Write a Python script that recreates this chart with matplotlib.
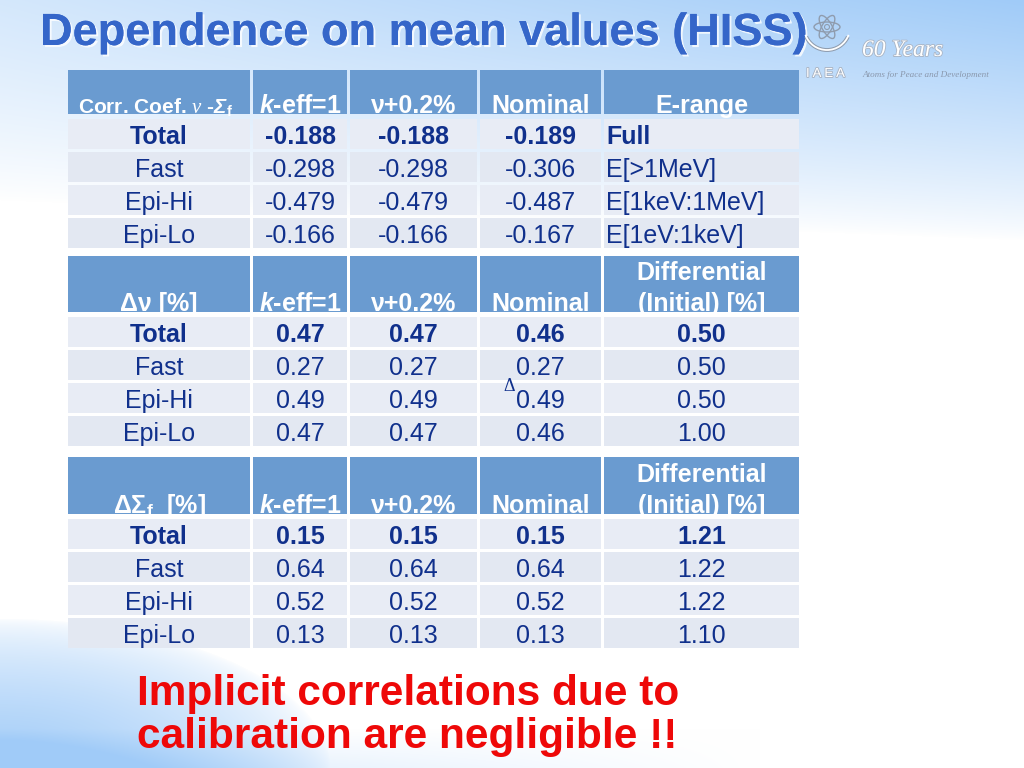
import numpy as np
import matplotlib
matplotlib.use("Agg")
import matplotlib.pyplot as plt
from matplotlib.patches import Rectangle, Ellipse, Arc
import matplotlib.patheffects as pe

# ---------------- data ----------------
row_labels = ["Total", "Fast", "Epi-Hi", "Epi-Lo"]
case_headers = [r"$\mathbfit{k}$-eff=1", "ν+0.2%", "Nominal"]

corr_keff = [-0.188, -0.298, -0.479, -0.166]
corr_nu02 = [-0.188, -0.298, -0.479, -0.166]
corr_nominal = [-0.189, -0.306, -0.487, -0.167]
e_range = ["Full", "E[>1MeV]", "E[1keV:1MeV]", "E[1eV:1keV]"]

dnu_keff = [0.47, 0.27, 0.49, 0.47]
dnu_nu02 = [0.47, 0.27, 0.49, 0.47]
dnu_nominal = [0.46, 0.27, 0.49, 0.46]
dnu_diff = [0.50, 0.50, 0.50, 1.00]

dsig_keff = [0.15, 0.64, 0.52, 0.13]
dsig_nu02 = [0.15, 0.64, 0.52, 0.13]
dsig_nominal = [0.15, 0.64, 0.52, 0.13]
dsig_diff = [1.21, 1.22, 1.22, 1.10]

title = "Dependence on mean values (HISS)"
conclusion = ["Implicit correlations due to", "calibration are negligible !!"]

# ---------------- style ----------------
plt.rcParams["font.family"] = ["Liberation Sans", "DejaVu Sans"]
plt.rcParams["mathtext.fontset"] = "custom"
plt.rcParams["mathtext.rm"] = "Liberation Sans"
plt.rcParams["mathtext.it"] = "Liberation Serif:italic"
plt.rcParams["mathtext.bf"] = "Liberation Sans:bold"
plt.rcParams["mathtext.bfit"] = "Liberation Sans:italic:bold"

HEAD = "#6a9bd0"
ROW_A = "#e8ecf5"
ROW_B = "#e3e8f2"
NAVY = "#10308c"
TITLE_C = "#3566c9"
RED = "#ee0808"

fig = plt.figure(figsize=(10.24, 7.68), dpi=100)
ax = fig.add_axes([0, 0, 1, 1])
ax.set_xlim(0, 1024)
ax.set_ylim(768, 0)
ax.axis("off")

# background gradient
W, H = 1024, 768
yy, xx = np.mgrid[0:H, 0:W].astype(float)
I_top = np.clip(1 - yy / (200 + 40 * xx / W), 0, 1) ** 0.8 * (0.45 + 0.55 * xx / W)
I_bl = np.clip(1 - np.sqrt((xx / 330) ** 2 + ((H - yy) / 150) ** 2), 0, 1) ** 0.6
I_band = np.clip(1 - (H - yy) / 40, 0, 1) * np.clip(1 - xx / 760, 0, 1) * 0.4
I = np.clip(I_top + I_bl + I_band, 0, 1)
blue = np.array([160, 203, 248]) / 255.0
bg = (1 - I)[..., None] * np.ones(3) + I[..., None] * blue
ax.imshow(bg, extent=[0, W, H, 0], zorder=0, aspect="auto")

# title
ax.text(40, 45, title, fontsize=32.5, fontweight="bold", color=TITLE_C,
        ha="left", va="baseline", zorder=5,
        path_effects=[pe.withSimplePatchShadow(offset=(1.5, -1.5), shadow_rgbFace="white", alpha=0.8), pe.Normal()])

# IAEA logo (approximation)
lc = "#8f9cae"
for ang in (0, 60, 120):
    ax.add_patch(Ellipse((827, 27), 26, 10, angle=ang, fill=False, ec=lc, lw=1.0, zorder=5))
ax.add_patch(Ellipse((827, 27), 5, 5, fill=False, ec=lc, lw=0.8, zorder=5))
ax.add_patch(Arc((827, 27), 46, 46, theta1=25, theta2=155, ec=lc, lw=2.8, zorder=5))
ax.add_patch(Arc((827, 27), 46, 46, theta1=20, theta2=160, ec="white", lw=1.3, zorder=5))
ax.text(862, 56, "60 Years", fontsize=17, fontstyle="italic", family="Liberation Serif",
        color="white", ha="left", va="baseline", zorder=5,
        path_effects=[pe.withStroke(linewidth=1.2, foreground="#a9b4c4")])
ax.text(806, 77, "I A E A", fontsize=9.5, color="white", ha="left", va="baseline", zorder=5,
        path_effects=[pe.withStroke(linewidth=1.3, foreground="#a9b4c4")])
ax.text(862, 77, "Atoms for Peace and Development", fontsize=6.6, fontstyle="italic",
        family="Liberation Serif", color="#8a98ad", ha="left", va="baseline", zorder=5)

# ---------------- tables ----------------
col_edges = [68, 253, 350, 480, 604, 802]
GAP = 3
ROW_H = 33
FS = 18


def cell(x0, x1, y0, y1, color):
    ax.add_patch(Rectangle((x0, y0), x1 - x0 - GAP, y1 - y0 - GAP, fc=color, ec="none", zorder=2))


def draw_table(top, head_h, header_texts, header_lines2, cols, last_col, last_left, fmt):
    for c in range(5):
        cell(col_edges[c], col_edges[c + 1], top, top + head_h, HEAD)
    base = top + head_h - 4
    for c, t in enumerate(header_texts):
        cx = (col_edges[c] + col_edges[c + 1] - GAP) / 2
        txt, fs, ha, x = t
        ax.text(x if x is not None else cx, base, txt, fontsize=fs, fontweight="bold",
                color="white", ha=ha, va="baseline", zorder=4)
    if header_lines2:
        cx = (col_edges[4] + col_edges[5] - GAP) / 2
        ax.text(cx, base - 31, header_lines2, fontsize=FS, fontweight="bold",
                color="white", ha="center", va="baseline", zorder=4)
    y0 = top + head_h + 2
    for r, lab in enumerate(row_labels):
        ya = y0 + r * ROW_H
        for c in range(5):
            cell(col_edges[c], col_edges[c + 1], ya, ya + ROW_H, ROW_A if r % 2 == 0 else ROW_B)
        yb = ya + (ROW_H - GAP) / 2 + 10
        wt = "bold" if r == 0 else "normal"
        ax.text((col_edges[0] + col_edges[1] - GAP) / 2, yb, lab, fontsize=FS, fontweight=wt,
                color=NAVY, ha="center", va="baseline", zorder=4)
        for c, vals in enumerate(cols):
            cx = (col_edges[c + 1] + col_edges[c + 2] - GAP) / 2
            ax.text(cx, yb, fmt.format(vals[r]), fontsize=FS, fontweight=wt,
                    color=NAVY, ha="center", va="baseline", zorder=4)
        lv = last_col[r]
        lt = lv if isinstance(lv, str) else fmt.format(lv)
        if last_left:
            ax.text(col_edges[4] + 2, yb, lt, fontsize=FS, fontweight=wt, color=NAVY,
                    ha="left", va="baseline", zorder=4)
        else:
            ax.text((col_edges[4] + col_edges[5] - GAP) / 2, yb, lt, fontsize=FS, fontweight=wt,
                    color=NAVY, ha="center", va="baseline", zorder=4)


case_hdr = [(h, FS, "center", None) for h in case_headers]

hdr1 = [(r"Corr. Coef. $\nu$ -$\mathbfit{\Sigma}_\mathregular{f}$", 15, "left", 78)] + \
       case_hdr + [("E-range", FS, "center", None)]
draw_table(70, 47, hdr1, None, [corr_keff, corr_nu02, corr_nominal], e_range, True, "{:.3f}")

hdr2 = [("Δν [%]", FS, "center", None)] + case_hdr + [("(Initial) [%]", FS, "center", None)]
draw_table(256, 59, hdr2, "Differential", [dnu_keff, dnu_nu02, dnu_nominal], dnu_diff, False, "{:.2f}")

hdr3 = [(r"Δ$\mathbf{\Sigma}_\mathregular{f}$  [%]", FS, "center", None)] + case_hdr + \
       [("(Initial) [%]", FS, "center", None)]
draw_table(457, 60, hdr3, "Differential", [dsig_keff, dsig_nu02, dsig_nominal], dsig_diff, False, "{:.2f}")

# stray delta in the original slide
ax.text(503, 391, "Δ", fontsize=13, family="Liberation Serif", color=NAVY, ha="left",
        va="baseline", zorder=5)

# conclusion
ax.text(137, 705, conclusion[0], fontsize=30.5, fontweight="bold", color=RED,
        ha="left", va="baseline", zorder=5)
ax.text(137, 748, conclusion[1], fontsize=30.5, fontweight="bold", color=RED,
        ha="left", va="baseline", zorder=5)

fig.savefig("out.png", dpi=100)
